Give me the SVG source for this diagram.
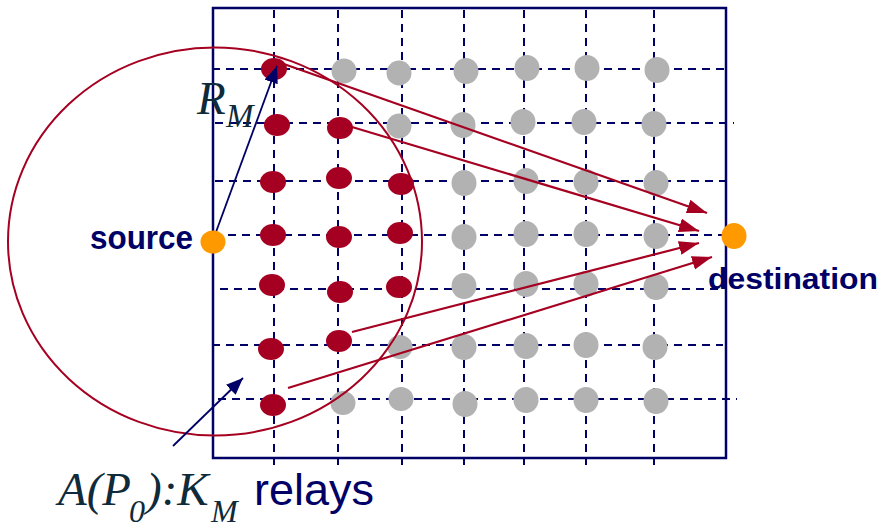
<svg xmlns="http://www.w3.org/2000/svg" width="882" height="530" viewBox="0 0 882 530">
<style>
.grid{stroke:#000066;stroke-width:2;stroke-dasharray:8 6;fill:none}
.red{fill:#A50021}
.gray{fill:#B2B2B2}
.orange{fill:#FF9900}
.rarrow{stroke:#A50021;stroke-width:2.2;fill:none;marker-end:url(#rhead)}
.narrow{stroke:#000066;stroke-width:1.8;fill:none;marker-end:url(#nhead)}
.lbl{font-family:"Liberation Sans",Arial,sans-serif;font-weight:bold;fill:#000066}
.math{font-family:"Liberation Serif","Times New Roman",serif;font-style:italic;fill:#0F2A3A}
</style>
<defs>
<marker id="rhead" markerUnits="userSpaceOnUse" markerWidth="22" markerHeight="16" refX="20" refY="7" orient="auto">
<path d="M0,0 L20,7 L0,14 z" fill="#A50021"/>
</marker>
<marker id="nhead" markerUnits="userSpaceOnUse" markerWidth="20" markerHeight="16" refX="17" refY="7" orient="auto">
<path d="M0,0 L17,7 L0,14 z" fill="#000066"/>
</marker>
</defs>
<rect x="213" y="8" width="513" height="450" fill="none" stroke="#000066" stroke-width="2.5"/>
<g id="grid">
<line class="grid" x1="274" y1="10" x2="274" y2="465"/>
<line class="grid" x1="338" y1="10" x2="338" y2="465"/>
<line class="grid" x1="402" y1="10" x2="402" y2="465"/>
<line class="grid" x1="464" y1="10" x2="464" y2="465"/>
<line class="grid" x1="524" y1="10" x2="524" y2="465"/>
<line class="grid" x1="586" y1="10" x2="586" y2="465"/>
<line class="grid" x1="654" y1="10" x2="654" y2="465"/>
<line class="grid" x1="212" y1="69" x2="726" y2="69"/>
<line class="grid" x1="215" y1="123" x2="734" y2="123"/>
<line class="grid" x1="215" y1="181" x2="727" y2="181"/>
<line class="grid" x1="228" y1="235" x2="726" y2="235"/>
<line class="grid" x1="220" y1="289" x2="724" y2="289"/>
<line class="grid" x1="212" y1="345" x2="723" y2="345"/>
<line class="grid" x1="218" y1="399" x2="737" y2="399"/>
</g>
<g id="relays-selected">
<ellipse class="red" cx="274" cy="69" rx="13" ry="11"/>
<ellipse class="red" cx="277" cy="125" rx="13" ry="11"/>
<ellipse class="red" cx="273" cy="182" rx="13" ry="11"/>
<ellipse class="red" cx="273" cy="235" rx="13" ry="11"/>
<ellipse class="red" cx="272" cy="285" rx="13" ry="11"/>
<ellipse class="red" cx="271" cy="349" rx="13" ry="11"/>
<ellipse class="red" cx="273" cy="405" rx="13" ry="11"/>
<ellipse class="red" cx="340" cy="128" rx="13" ry="11"/>
<ellipse class="red" cx="339" cy="178" rx="13" ry="11"/>
<ellipse class="red" cx="339" cy="237" rx="13" ry="11"/>
<ellipse class="red" cx="340" cy="292" rx="13" ry="11"/>
<ellipse class="red" cx="339" cy="341" rx="13" ry="11"/>
<ellipse class="red" cx="401" cy="184" rx="13" ry="11"/>
<ellipse class="red" cx="400" cy="233" rx="13" ry="11"/>
<ellipse class="red" cx="399" cy="287" rx="13" ry="11"/>
</g>
<g id="relays-other">
<ellipse class="gray" cx="344" cy="71" rx="12.5" ry="12.5"/>
<ellipse class="gray" cx="399" cy="73" rx="12.5" ry="12.5"/>
<ellipse class="gray" cx="466" cy="71" rx="12.5" ry="13"/>
<ellipse class="gray" cx="527" cy="68" rx="12.5" ry="13"/>
<ellipse class="gray" cx="587" cy="68" rx="12.5" ry="13"/>
<ellipse class="gray" cx="657" cy="70" rx="12.5" ry="13"/>
<ellipse class="gray" cx="399" cy="126" rx="12.5" ry="12.5"/>
<ellipse class="gray" cx="463" cy="125" rx="12.5" ry="13"/>
<ellipse class="gray" cx="523" cy="122" rx="12.5" ry="13"/>
<ellipse class="gray" cx="584" cy="122" rx="12.5" ry="13"/>
<ellipse class="gray" cx="654" cy="124" rx="12.5" ry="13"/>
<ellipse class="gray" cx="464" cy="183" rx="12.5" ry="13"/>
<ellipse class="gray" cx="526" cy="181" rx="12.5" ry="13"/>
<ellipse class="gray" cx="586" cy="182" rx="12.5" ry="13"/>
<ellipse class="gray" cx="656" cy="183" rx="12.5" ry="13"/>
<ellipse class="gray" cx="464" cy="237" rx="12.5" ry="13"/>
<ellipse class="gray" cx="526" cy="234" rx="12.5" ry="13"/>
<ellipse class="gray" cx="586" cy="234" rx="12.5" ry="13"/>
<ellipse class="gray" cx="656" cy="236" rx="12.5" ry="13"/>
<ellipse class="gray" cx="464" cy="286" rx="12.5" ry="13"/>
<ellipse class="gray" cx="526" cy="284" rx="12.5" ry="13"/>
<ellipse class="gray" cx="586" cy="284" rx="12.5" ry="13"/>
<ellipse class="gray" cx="656" cy="287" rx="12.5" ry="13"/>
<ellipse class="gray" cx="400" cy="347" rx="12.5" ry="12"/>
<ellipse class="gray" cx="464" cy="347" rx="12.5" ry="13"/>
<ellipse class="gray" cx="526" cy="346" rx="12.5" ry="13"/>
<ellipse class="gray" cx="586" cy="345" rx="12.5" ry="13"/>
<ellipse class="gray" cx="655" cy="347" rx="12.5" ry="13"/>
<ellipse class="gray" cx="343" cy="403" rx="12.5" ry="12"/>
<ellipse class="gray" cx="401" cy="399" rx="12.5" ry="12"/>
<ellipse class="gray" cx="465" cy="404" rx="12.5" ry="13"/>
<ellipse class="gray" cx="526" cy="400" rx="12.5" ry="13"/>
<ellipse class="gray" cx="586" cy="400" rx="12.5" ry="13"/>
<ellipse class="gray" cx="656" cy="401" rx="12.5" ry="13"/>
</g>
<ellipse id="range" cx="215" cy="241.5" rx="207" ry="194" fill="none" stroke="#A50021" stroke-width="2"/>
<g id="connectors">
<line class="rarrow" x1="281" y1="63" x2="707" y2="213"/>
<line class="rarrow" x1="352" y1="127" x2="699" y2="231"/>
<line class="rarrow" x1="352" y1="332" x2="699" y2="243"/>
<line class="rarrow" x1="288" y1="388" x2="712" y2="257"/>
<line class="narrow" x1="216" y1="232" x2="277" y2="66"/>
<line class="narrow" x1="173" y1="446" x2="243" y2="378"/>
</g>
<g id="source">
<ellipse class="orange" cx="213" cy="242" rx="12.5" ry="11.5"/>
<text class="lbl" x="90" y="249" font-size="33" textLength="103" lengthAdjust="spacingAndGlyphs">source</text>
</g>
<g id="destination">
<ellipse class="orange" cx="734" cy="236" rx="12.5" ry="13"/>
<text class="lbl" x="708" y="289" font-size="30" textLength="170" lengthAdjust="spacingAndGlyphs">destination</text>
</g>
<g id="label-rm">
<text class="math" x="197" y="114" font-size="47">R</text>
<text class="math" x="226" y="127" font-size="33">M</text>
</g>
<g id="label-relays">
<text class="math" x="58" y="505" font-size="47">A(P</text>
<text class="math" x="129" y="522" font-size="32">0</text>
<text class="math" x="146" y="505" font-size="47">):K</text>
<text class="math" x="211" y="522" font-size="32">M</text>
<text x="254" y="505" font-size="45" fill="#000066" font-family="Liberation Sans, Arial, sans-serif">relays</text>
</g>
</svg>
